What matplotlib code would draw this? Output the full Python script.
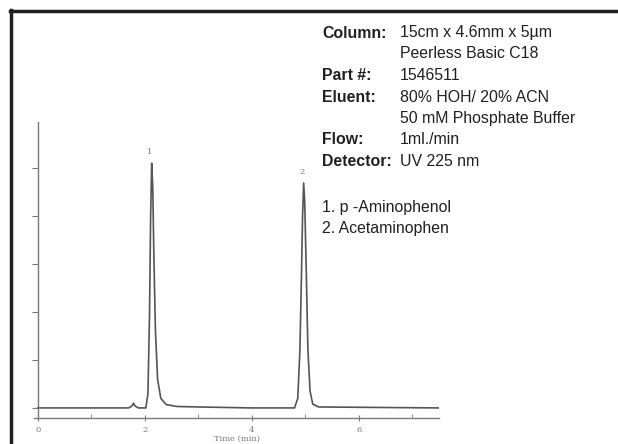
import matplotlib
matplotlib.use("Agg")
import matplotlib.pyplot as plt
from matplotlib.lines import Line2D

# chromatogram trace (time in min, signal in axis units)
time_min = [0.0, 1.70, 1.76, 1.79, 1.82, 1.88, 2.02, 2.06, 2.09, 2.11, 2.13,
            2.15, 2.17, 2.20, 2.24, 2.30, 2.40, 2.60, 3.00, 4.00, 4.80, 4.86,
            4.90, 4.93, 4.95, 4.97, 4.99, 5.02, 5.05, 5.09, 5.14, 5.25, 7.50]
signal = [0.0, 0.0, 0.04, 0.10, 0.04, 0.0, 0.0, 0.3, 2.0, 4.0, 5.1,
          4.6, 3.2, 1.6, 0.6, 0.2, 0.07, 0.03, 0.02, 0.0, 0.0, 0.2,
          1.2, 2.8, 4.0, 4.69, 4.3, 2.8, 1.2, 0.35, 0.08, 0.02, 0.0]

peak_times = [2.12, 4.96]
peak_tops = [5.1, 4.69]
peak_labels = ["1", "2"]

x_major = [0, 2, 4, 6]
x_minor = [1, 3, 5, 7]
y_ticks = [0, 1, 2, 3, 4, 5]

info_keys = ["Column:", "", "Part #:", "Eluent:", "", "Flow:", "Detector:"]
info_vals = ["15cm x 4.6mm x 5µm", "Peerless Basic C18", "1546511",
             "80% HOH/ 20% ACN", "50 mM Phosphate Buffer", "1ml./min",
             "UV 225 nm"]
compounds = ["1. p -Aminophenol", "2. Acetaminophen"]

W, H = 618, 444
fig = plt.figure(figsize=(W / 100, H / 100), dpi=100)
fig.patch.set_facecolor("white")

gray = "#7a7a7a"
ax = fig.add_axes([34 / W, 1 - 418 / H, (439 - 34) / W, (418 - 122) / H])
ax.plot(time_min, signal, color="#555555", lw=1.2)
ax.set_xlim(-0.07, 7.5)
ax.set_ylim(-0.21, 5.96)

for s in ["top", "right"]:
    ax.spines[s].set_visible(False)
ax.spines["left"].set_position(("data", 0))
for s in ["left", "bottom"]:
    ax.spines[s].set_color(gray)
    ax.spines[s].set_linewidth(1.0)

ax.set_xticks(x_major)
ax.set_xticks(x_minor, minor=True)
ax.set_xticklabels([str(v) for v in x_major], fontsize=6, color=gray,
                   family="DejaVu Serif")
ax.tick_params(axis="x", which="major", direction="inout", length=5,
               color=gray, pad=3)
ax.tick_params(axis="x", which="minor", direction="in", length=3, color=gray)
ax.set_yticks(y_ticks)
ax.set_yticklabels([])
ax.tick_params(axis="y", direction="out", length=4, color=gray)
ax.set_xlabel("Time (min)", fontsize=6, color=gray, family="DejaVu Serif",
              labelpad=1)

for t, top, lab in zip(peak_times, peak_tops, peak_labels):
    ax.annotate(lab, (t, top), xytext=(-1, 5), textcoords="offset points",
                ha="center", va="bottom", fontsize=6, color=gray,
                family="DejaVu Serif")

# info block at top right
font = "Liberation Sans"
fs = 11.4
row_y = [33, 54, 76, 97, 118, 140, 161]
for y, k, v in zip(row_y, info_keys, info_vals):
    if k:
        fig.text(322 / W, 1 - y / H, k, fontsize=fs, fontweight="bold",
                 family=font, va="center", color="#231f20")
    fig.text(400 / W, 1 - y / H, v, fontsize=fs, family=font, va="center",
             color="#231f20")
for y, c in zip([207, 229], compounds):
    fig.text(322 / W, 1 - y / H, c, fontsize=fs, family=font, va="center",
             color="#231f20")

# black frame on top and left edge
fig.add_artist(Line2D([10 / W, 1], [1 - 11 / H, 1 - 11 / H], color="#231f20",
                      lw=2.5, transform=fig.transFigure))
fig.add_artist(Line2D([11 / W, 11 / W], [0, 1 - 10 / H], color="#231f20",
                      lw=2.5, transform=fig.transFigure))

fig.savefig("out.png", dpi=100)
